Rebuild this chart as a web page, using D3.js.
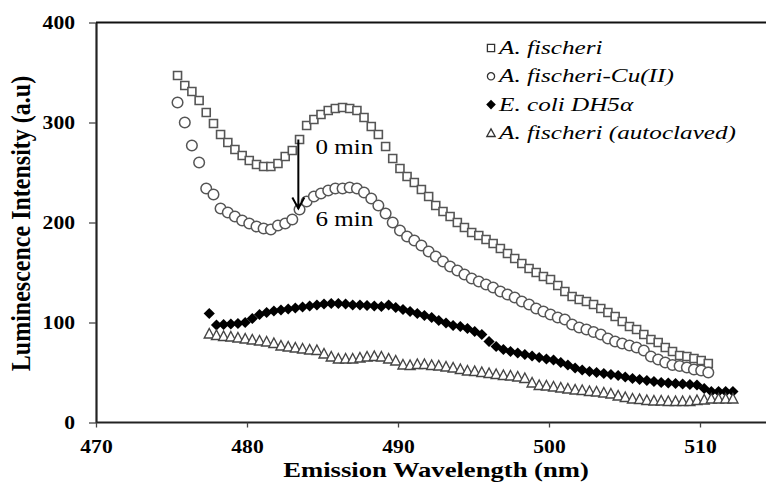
<!DOCTYPE html>
<html>
<head>
<meta charset="utf-8">
<script src="https://cdn.jsdelivr.net/npm/d3@7"></script>
<style>
  html, body { margin: 0; padding: 0; background: #fff; }
  svg { display: block; }
</style>
</head>
<body>
<svg id="chart" width="766" height="492"></svg>
<script>
// Emission wavelengths (nm) of the A. fischeri scans
const wavelengthFischeri = [
  475.40, 475.88, 476.35, 476.83, 477.30, 477.78, 478.25, 478.73, 479.20, 479.68,
  480.15, 480.63, 481.10, 481.58, 482.05, 482.53, 483.00, 483.48, 483.95, 484.43,
  484.90, 485.38, 485.85, 486.33, 486.80, 487.28, 487.75, 488.23, 488.70, 489.18,
  489.65, 490.13, 490.60, 491.08, 491.55, 492.03, 492.50, 492.98, 493.45, 493.93,
  494.40, 494.88, 495.35, 495.83, 496.30, 496.78, 497.25, 497.73, 498.20, 498.68,
  499.15, 499.63, 500.10, 500.58, 501.05, 501.53, 502.00, 502.48, 502.95, 503.43,
  503.90, 504.38, 504.85, 505.33, 505.80, 506.28, 506.75, 507.23, 507.70, 508.18,
  508.65, 509.13, 509.60, 510.08, 510.55
];
// A. fischeri, 0 min
const fischeri = [
  347, 337, 331, 322, 310, 299, 288, 280, 273, 267,
  262, 258, 256, 256, 259, 266, 272, 283, 297, 303,
  308, 312, 314, 315, 314, 312, 305, 296, 288, 276,
  264, 254, 246, 240, 233, 226, 217, 211, 206, 200,
  195, 190, 187, 183, 179, 174, 169, 164, 159, 154,
  150, 146, 143, 137, 131, 126, 123, 121, 118, 114,
  110, 106, 101, 96, 93, 88, 83, 80, 75, 71,
  67, 66, 64, 62, 59
];
// A. fischeri with Cu(II), 6 min
const fischeriCu = [
  320, 300, 277, 260, 234, 228, 214, 210, 206, 202,
  199, 196, 194, 193, 197, 199, 203, 213, 221, 226,
  229, 232, 234, 234, 235, 234, 230, 224, 217, 209,
  200, 192, 186, 182, 177, 171, 166, 161, 156, 152,
  148, 144, 141, 138, 135, 131, 128, 125, 121, 118,
  114, 111, 108, 105, 103, 98, 95, 93, 90.5, 88,
  84, 81, 79, 77, 75, 72, 66, 63, 60, 57.5,
  56.5, 55, 53, 52, 50
];
// Emission wavelengths (nm) of the control scans
const wavelengthControl = [
  477.50, 477.98, 478.45, 478.93, 479.40, 479.88, 480.35, 480.83, 481.30, 481.78,
  482.25, 482.73, 483.20, 483.68, 484.15, 484.63, 485.10, 485.58, 486.05, 486.53,
  487.00, 487.48, 487.95, 488.43, 488.90, 489.38, 489.85, 490.33, 490.80, 491.28,
  491.75, 492.23, 492.70, 493.18, 493.65, 494.13, 494.60, 495.08, 495.55, 496.03,
  496.50, 496.98, 497.45, 497.93, 498.40, 498.88, 499.35, 499.83, 500.30, 500.78,
  501.25, 501.73, 502.20, 502.68, 503.15, 503.63, 504.10, 504.58, 505.05, 505.53,
  506.00, 506.48, 506.95, 507.43, 507.90, 508.38, 508.85, 509.33, 509.80, 510.28,
  510.75, 511.23, 511.70, 512.18
];
// E. coli DH5α
const ecoli = [
  109, 97.5, 98, 98.5, 99, 100, 104, 108, 110, 111.5,
  112.5, 113.5, 114.5, 115.5, 116.5, 117.5, 118.5, 119, 119, 118.5,
  117.5, 117.5, 117, 116.5, 116, 117.5, 115, 113, 111, 109,
  107, 105, 102, 99.5, 97, 96, 94, 91, 88, 81,
  76, 73, 71, 69.5, 68, 66.5, 65, 63.5, 62.5, 60,
  57.5, 54.5, 52.5, 51, 50, 49, 48, 47, 45.5, 44,
  43, 42, 41, 40, 39.5, 39, 38.5, 38, 37.5, 34,
  31, 31, 31, 31
];
// A. fischeri, autoclaved
const autoclaved = [
  89, 87.5, 86.5, 86, 85, 84, 83, 82, 81, 79.5,
  77, 76, 75, 74, 73, 72.5, 69, 66, 64, 64,
  64, 65, 66, 66.5, 66, 64, 62, 58, 57.5, 58.5,
  58.5, 57.5, 57, 56, 55, 53.5, 52, 51.5, 50.5, 49.5,
  48.5, 47.5, 47, 46, 44.5, 40, 37.5, 37, 36, 35,
  34, 33, 32.5, 31.5, 31, 30, 29, 27, 25.5, 24,
  23.5, 22.5, 22, 22, 21.5, 21.5, 21.5, 21.5, 22.5, 23,
  24, 24, 24, 24
];

const xTicks = [470, 480, 490, 500, 510];
const yTicks = [0, 100, 200, 300, 400];
const seriesNames = ["A. fischeri", "A. fischeri-Cu(II)", "E. coli DH5α", "A. fischeri (autoclaved)"];
const timeLabels = ["0 min", "6 min"];
// quench arrow: wavelength, start and end intensity
const arrowWavelength = 483.4;
const arrowFrom = 283;
const arrowTo = 214;
// where the time labels sit (wavelength, intensity)
const timeLabelAt = [[486.45, 269], [486.45, 197]];

const svg = d3.select("#chart");
const serif = "'Liberation Serif', 'Times New Roman', serif";

const x = d3.scaleLinear().domain([470, 515]).range([96, 96 + 45 * 15.1]);
const y = d3.scaleLinear().domain([0, 400]).range([422.5, 22.5]);

// marker shapes
const circlePath = r => { const p = d3.path(); p.arc(0, 0, r, 0, 2 * Math.PI); p.closePath(); return p.toString(); };
const shapes = {
  square: "M-4,-4H4V4H-4Z",
  circle: circlePath(5.3),
  diamond: "M0,-5.6L5.6,0L0,5.6L-5.6,0Z",
  triangle: "M0,-5L5,4.5H-5Z"
};

const styles = [
  { shape: "square", fill: "#fff", stroke: "#555", sw: 1.6 },
  { shape: "circle", fill: "#fff", stroke: "#555", sw: 1.5 },
  { shape: "diamond", fill: "#000", stroke: "none", sw: 0 },
  { shape: "triangle", fill: "#fff", stroke: "#444", sw: 1.4 }
];

// frame: top border, left and bottom axes
svg.append("line").attr("x1", 96).attr("x2", 766).attr("y1", y(400)).attr("y2", y(400))
  .attr("stroke", "#111").attr("stroke-width", 2);

const yAxis = svg.append("g").attr("transform", "translate(96,0)")
  .call(d3.axisLeft(y).tickValues(yTicks).tickSize(7).tickSizeOuter(0).tickFormat(d3.format("d")));
const xAxis = svg.append("g").attr("transform", `translate(0,${y(0)})`)
  .call(d3.axisBottom(x).tickValues(xTicks).tickSize(5).tickSizeOuter(0).tickFormat(d3.format("d")));

[yAxis, xAxis].forEach(a => {
  a.select(".domain").attr("stroke", "#222").attr("stroke-width", 2.2);
  a.selectAll(".tick line").attr("stroke", "#444").attr("stroke-width", 1.3);
  a.selectAll("text").attr("fill", "#000").attr("font-family", serif)
    .attr("font-weight", "bold").attr("font-size", 18);
});
xAxis.select(".domain").attr("d", `M96,0H766`);
yAxis.selectAll("text").attr("x", 0).attr("dy", 0)
  .attr("transform", "translate(-21,6) scale(1.2,1)").attr("text-anchor", "end");
xAxis.selectAll("text").attr("y", 0).attr("dy", 0)
  .attr("transform", "translate(0,30.5) scale(1.2,1)").attr("text-anchor", "middle");

// axis titles
svg.append("text")
  .attr("transform", "translate(436,477) scale(1.21,1)")
  .attr("text-anchor", "middle").attr("font-family", serif).attr("font-weight", "bold")
  .attr("font-size", 22).text("Emission Wavelength (nm)");
svg.append("text")
  .attr("transform", "translate(30,223.5) rotate(-90) scale(1,1.15)")
  .attr("text-anchor", "middle").attr("font-family", serif).attr("font-weight", "bold")
  .attr("font-size", 24).text("Luminescence Intensity (a.u)");

// data series
const series = [
  { xs: wavelengthFischeri, ys: fischeri },
  { xs: wavelengthFischeri, ys: fischeriCu },
  { xs: wavelengthControl, ys: ecoli },
  { xs: wavelengthControl, ys: autoclaved }
];
series.forEach((s, i) => {
  const st = styles[i];
  svg.append("g").selectAll("path")
    .data(s.ys.map((v, j) => [s.xs[j], v]))
    .join("path")
    .attr("transform", d => `translate(${x(d[0])},${y(d[1])})`)
    .attr("d", shapes[st.shape])
    .attr("fill", st.fill).attr("stroke", st.stroke).attr("stroke-width", st.sw);
});

// quench arrow
const ax = x(arrowWavelength), ay1 = y(arrowFrom), ay2 = y(arrowTo);
svg.append("line").attr("x1", ax).attr("x2", ax).attr("y1", ay1).attr("y2", ay2)
  .attr("stroke", "#000").attr("stroke-width", 2);
svg.append("path").attr("d", `M${ax - 6},${ay2 - 11}L${ax},${ay2}L${ax + 6},${ay2 - 11}`)
  .attr("fill", "none").attr("stroke", "#000").attr("stroke-width", 2);

// time labels
timeLabels.forEach((t, i) => {
  svg.append("text")
    .attr("transform", `translate(${x(timeLabelAt[i][0])},${y(timeLabelAt[i][1])}) scale(1.25,1)`)
    .attr("text-anchor", "middle").attr("font-family", serif).attr("font-size", 20)
    .attr("fill", "#000").text(t);
});

// legend
const legendX = 491, legendTop = 48, legendStep = 28.3;
const lg = svg.append("g");
const legendShapes = {
  square: "M-3.6,-3.6H3.6V3.6H-3.6Z",
  circle: circlePath(3.6),
  diamond: "M0,-4.8L4.8,0L0,4.8L-4.8,0Z",
  triangle: "M0,-4L4.2,3.6H-4.2Z"
};
seriesNames.forEach((name, i) => {
  const cy = legendTop + i * legendStep;
  const st = styles[i];
  lg.append("path").attr("transform", `translate(${legendX},${cy})`)
    .attr("d", legendShapes[st.shape])
    .attr("fill", st.fill).attr("stroke", st.stroke === "none" ? "none" : "#333")
    .attr("stroke-width", 1.3);
  lg.append("text")
    .attr("transform", `translate(${legendX + 8},${cy + 6}) scale(1.4,1)`)
    .attr("font-family", serif).attr("font-style", "italic").attr("font-size", 18)
    .attr("fill", "#000").text(name);
});
</script>
</body>
</html>
